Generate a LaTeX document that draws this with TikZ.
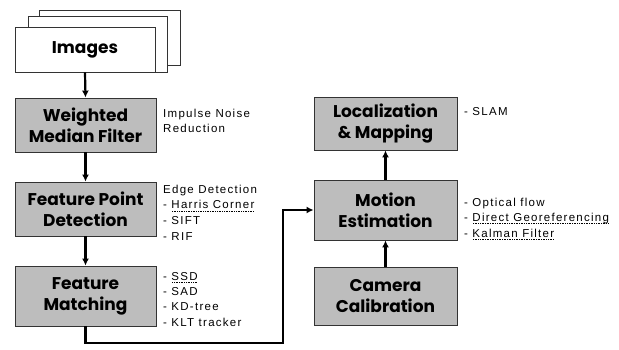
\documentclass[tikz,border=0pt]{standalone}
\usepackage{fontspec}
\usetikzlibrary{arrows.meta}
\newfontfamily\boxfont{Poppins}
\newfontfamily\notefont{Liberation Sans}[LetterSpace=11]
\definecolor{boxgray}{gray}{0.74}
\definecolor{edge}{gray}{0.2}
\newsavebox{\dulbox}
\newcommand\dotul[1]{\sbox{\dulbox}{#1}\rlap{\raisebox{-2.2pt}{\hbox to \wd\dulbox{\xleaders\hbox to 1.7pt{\hss\rule{0.7pt}{0.6pt}\hss}\hfill}}}\usebox{\dulbox}}
\begin{document}
\begin{tikzpicture}[x=1pt,y=-1pt,
  procbox/.style={draw=edge, line width=0.9pt, fill=boxgray, align=center,
    inner sep=0pt, font=\boxfont\bfseries\fontsize{17}{21}\selectfont},
  leftbox/.style={procbox, minimum width=141pt},
  rightbox/.style={procbox, minimum width=143pt},
  imgbox/.style={draw=edge, line width=0.8pt, fill=white, inner sep=0pt},
  note/.style={anchor=north west, align=left, inner sep=0pt,
    font=\notefont\fontsize{11.5}{15.8}\selectfont},
  arr/.style={line width=2.2pt, -{Latex[length=7pt,width=7pt]}}]
\useasboundingbox[fill=white] (0,0) rectangle (619,349);
% Images stack
\node[imgbox, minimum width=141pt, minimum height=55pt] (imgC) at (109.5,37.5) {};
\node[imgbox, minimum width=139pt, minimum height=56pt] (imgB) at (97.5,44) {};
\node[imgbox, minimum width=140pt, minimum height=45pt,
  font=\boxfont\bfseries\fontsize{17}{21}\selectfont] (img) at (85,49.5) {Images};
% left column
\node[leftbox, minimum height=54pt] (wmf) at (85.5,125) {Weighted\\Median Filter};
\node[leftbox, minimum height=54pt] (fpd) at (85.5,209) {Feature Point\\Detection};
\node[leftbox, minimum height=60pt] (fm) at (85.5,296) {Feature\\Matching};
% right column
\node[rightbox, minimum height=53pt] (lm) at (385.5,123.5) {Localization\\\& Mapping};
\node[rightbox, minimum height=60pt] (me) at (385.5,210) {Motion\\Estimation};
\node[rightbox, minimum height=58pt] (cc) at (385.5,296) {Camera\\Calibration};
% notes
\node[note] (n1) at (163,108.6) {Impulse Noise\\Reduction};
\node[note] (n2) at (163,184.6) {Edge Detection\\- \dotul{Harris Corner}\\- SIFT\\- RIF};
\node[note, font=\notefont\fontsize{11.5}{15.4}\selectfont] (n3) at (163,271.8) {- \dotul{SSD}\\- SAD\\- KD-tree\\- KLT tracker};
\node[note] (n4) at (464,107.6) {- SLAM};
\node[note, font=\notefont\fontsize{11.5}{15.5}\selectfont] (n5) at (464,197.6) {- Optical flow\\- \dotul{Direct Georeferencing}\\- \dotul{Kalman Filter}};
% connectors
\coordinate (c1) at (283,343);
\draw[arr] (img.south) -- (wmf.north);
\draw[arr] (wmf.south) -- (fpd.north);
\draw[arr] (fpd.south) -- (fm.north);
\draw[arr] (fm.south) |- (c1) |- (me.west);
\draw[arr] (cc.north) -- (me.south);
\draw[arr] (me.north) -- (lm.south);
\end{tikzpicture}
\end{document}
